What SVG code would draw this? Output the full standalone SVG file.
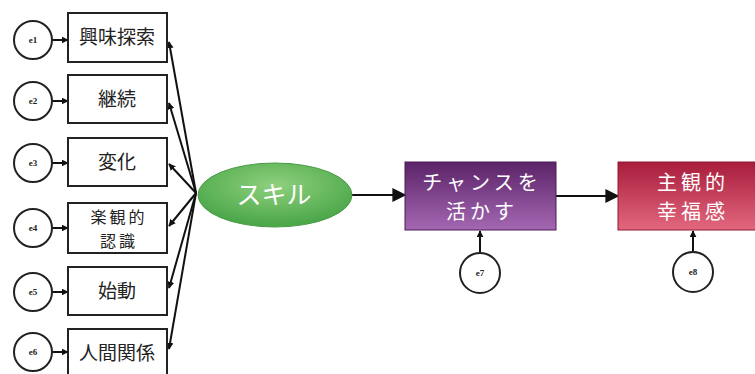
<svg xmlns="http://www.w3.org/2000/svg" width="755" height="374" viewBox="0 0 755 374">
<defs>
<marker id="ah" viewBox="0 0 10 10" refX="9" refY="5" markerWidth="7" markerHeight="7" markerUnits="userSpaceOnUse" orient="auto"><path d="M0,0 L10,5 L0,10 z" fill="#111"/></marker>
<marker id="ahBig" viewBox="0 0 10 10" refX="9" refY="5" markerWidth="14" markerHeight="14" markerUnits="userSpaceOnUse" orient="auto"><path d="M0,0 L10,5 L0,10 z" fill="#111"/></marker>
<linearGradient id="gPurple" x1="0" y1="0" x2="0" y2="1"><stop offset="0" stop-color="#5b2368"/><stop offset="1" stop-color="#a468b2"/></linearGradient>
<linearGradient id="gRed" x1="0" y1="0" x2="0" y2="1"><stop offset="0" stop-color="#a81c3c"/><stop offset="1" stop-color="#e2687e"/></linearGradient>
<radialGradient id="gGreen" cx="0.5" cy="0.35" r="0.6"><stop offset="0" stop-color="#8fd07e"/><stop offset="1" stop-color="#4da84a"/></radialGradient>
</defs>
<style>
.box{fill:#fff;stroke:#222;stroke-width:2}
.err{fill:#fff;stroke:#222;stroke-width:2}
.lbl{font-family:"Noto Sans CJK JP","Noto Sans",sans-serif;font-size:19px;fill:#222;text-anchor:middle}
.lbl2{font-family:"Noto Sans CJK JP","Noto Sans",sans-serif;font-size:16px;letter-spacing:3px;fill:#222;text-anchor:middle}
.elbl{font-family:"Liberation Serif",serif;font-size:9px;font-weight:bold;fill:#222;text-anchor:middle}
.wlbl{font-family:"Noto Sans CJK JP","Noto Sans",sans-serif;font-size:20px;letter-spacing:4px;fill:#fff;text-anchor:middle}
.con{stroke:#111;stroke-width:2;fill:none}
</style>
<rect width="755" height="374" fill="#fff"/>
<g id="connectors">
<line class="con" x1="52" y1="40" x2="68" y2="40" marker-end="url(#ah)"/>
<line class="con" x1="52" y1="101" x2="68" y2="101" marker-end="url(#ah)"/>
<line class="con" x1="52" y1="163" x2="68" y2="163" marker-end="url(#ah)"/>
<line class="con" x1="52" y1="228" x2="68" y2="228" marker-end="url(#ah)"/>
<line class="con" x1="52" y1="292" x2="68" y2="292" marker-end="url(#ah)"/>
<line class="con" x1="52" y1="352" x2="68" y2="352" marker-end="url(#ah)"/>
<line class="con" x1="196" y1="193" x2="169" y2="42" marker-end="url(#ah)"/>
<line class="con" x1="196" y1="193" x2="169" y2="103" marker-end="url(#ah)"/>
<line class="con" x1="196" y1="193" x2="169" y2="164" marker-end="url(#ah)"/>
<line class="con" x1="196" y1="193" x2="169" y2="226" marker-end="url(#ah)"/>
<line class="con" x1="196" y1="193" x2="169" y2="288" marker-end="url(#ah)"/>
<line class="con" x1="196" y1="193" x2="169" y2="349" marker-end="url(#ah)"/>
<line class="con" x1="352" y1="195" x2="405" y2="195" marker-end="url(#ahBig)"/>
<line class="con" x1="556" y1="196" x2="618" y2="196" marker-end="url(#ahBig)"/>
<line class="con" x1="480" y1="253" x2="480" y2="231" marker-end="url(#ah)"/>
<line class="con" x1="693" y1="252" x2="693" y2="231" marker-end="url(#ah)"/>
</g>
<g id="e1"><circle class="err" cx="33" cy="40" r="19"/><text class="elbl" x="33" y="43">e1</text></g>
<g id="e2"><circle class="err" cx="33" cy="101" r="19"/><text class="elbl" x="33" y="104">e2</text></g>
<g id="e3"><circle class="err" cx="33" cy="163" r="19"/><text class="elbl" x="33" y="166">e3</text></g>
<g id="e4"><circle class="err" cx="33" cy="228" r="19"/><text class="elbl" x="33" y="231">e4</text></g>
<g id="e5"><circle class="err" cx="33" cy="292" r="19"/><text class="elbl" x="33" y="295">e5</text></g>
<g id="e6"><circle class="err" cx="33" cy="352" r="19"/><text class="elbl" x="33" y="355">e6</text></g>
<g id="n1"><rect class="box" x="68" y="13" width="99" height="49"/><text class="lbl" x="117" y="44">興味探索</text></g>
<g id="n2"><rect class="box" x="68" y="75" width="99" height="48"/><text class="lbl" x="117" y="106">継続</text></g>
<g id="n3"><rect class="box" x="68" y="138" width="99" height="48"/><text class="lbl" x="117" y="169">変化</text></g>
<g id="n4"><rect class="box" x="68" y="203" width="99" height="50"/><text class="lbl2" x="119" y="223">楽観的</text><text class="lbl2" x="119" y="247">認識</text></g>
<g id="n5"><rect class="box" x="68" y="267" width="99" height="48"/><text class="lbl" x="117" y="298">始動</text></g>
<g id="n6"><rect class="box" x="68" y="329" width="99" height="48" stroke-width="3"/><text class="lbl" x="117" y="360">人間関係</text></g>
<g id="skill"><ellipse cx="275" cy="195" rx="77" ry="32" fill="url(#gGreen)" stroke="#4a9a48" stroke-width="1"/><text x="274" y="204" style="font-family:'Noto Sans CJK JP','Noto Sans',sans-serif;font-size:25px;fill:#fff;text-anchor:middle">スキル</text></g>
<g id="chance"><rect x="405" y="162" width="151" height="68" fill="url(#gPurple)" stroke="#4a1c55" stroke-width="1"/><text class="wlbl" x="482" y="190">チャンスを</text><text class="wlbl" x="482" y="219">活かす</text></g>
<g id="happy"><rect x="618" y="162" width="145" height="68" fill="url(#gRed)" stroke="#8e1a33" stroke-width="1"/><text class="wlbl" x="693" y="190">主観的</text><text class="wlbl" x="693" y="219">幸福感</text></g>
<g id="e7"><circle class="err" cx="480" cy="273" r="20"/><text class="elbl" x="480" y="276">e7</text></g>
<g id="e8"><circle class="err" cx="693" cy="272" r="20"/><text class="elbl" x="693" y="275">e8</text></g>
</svg>
